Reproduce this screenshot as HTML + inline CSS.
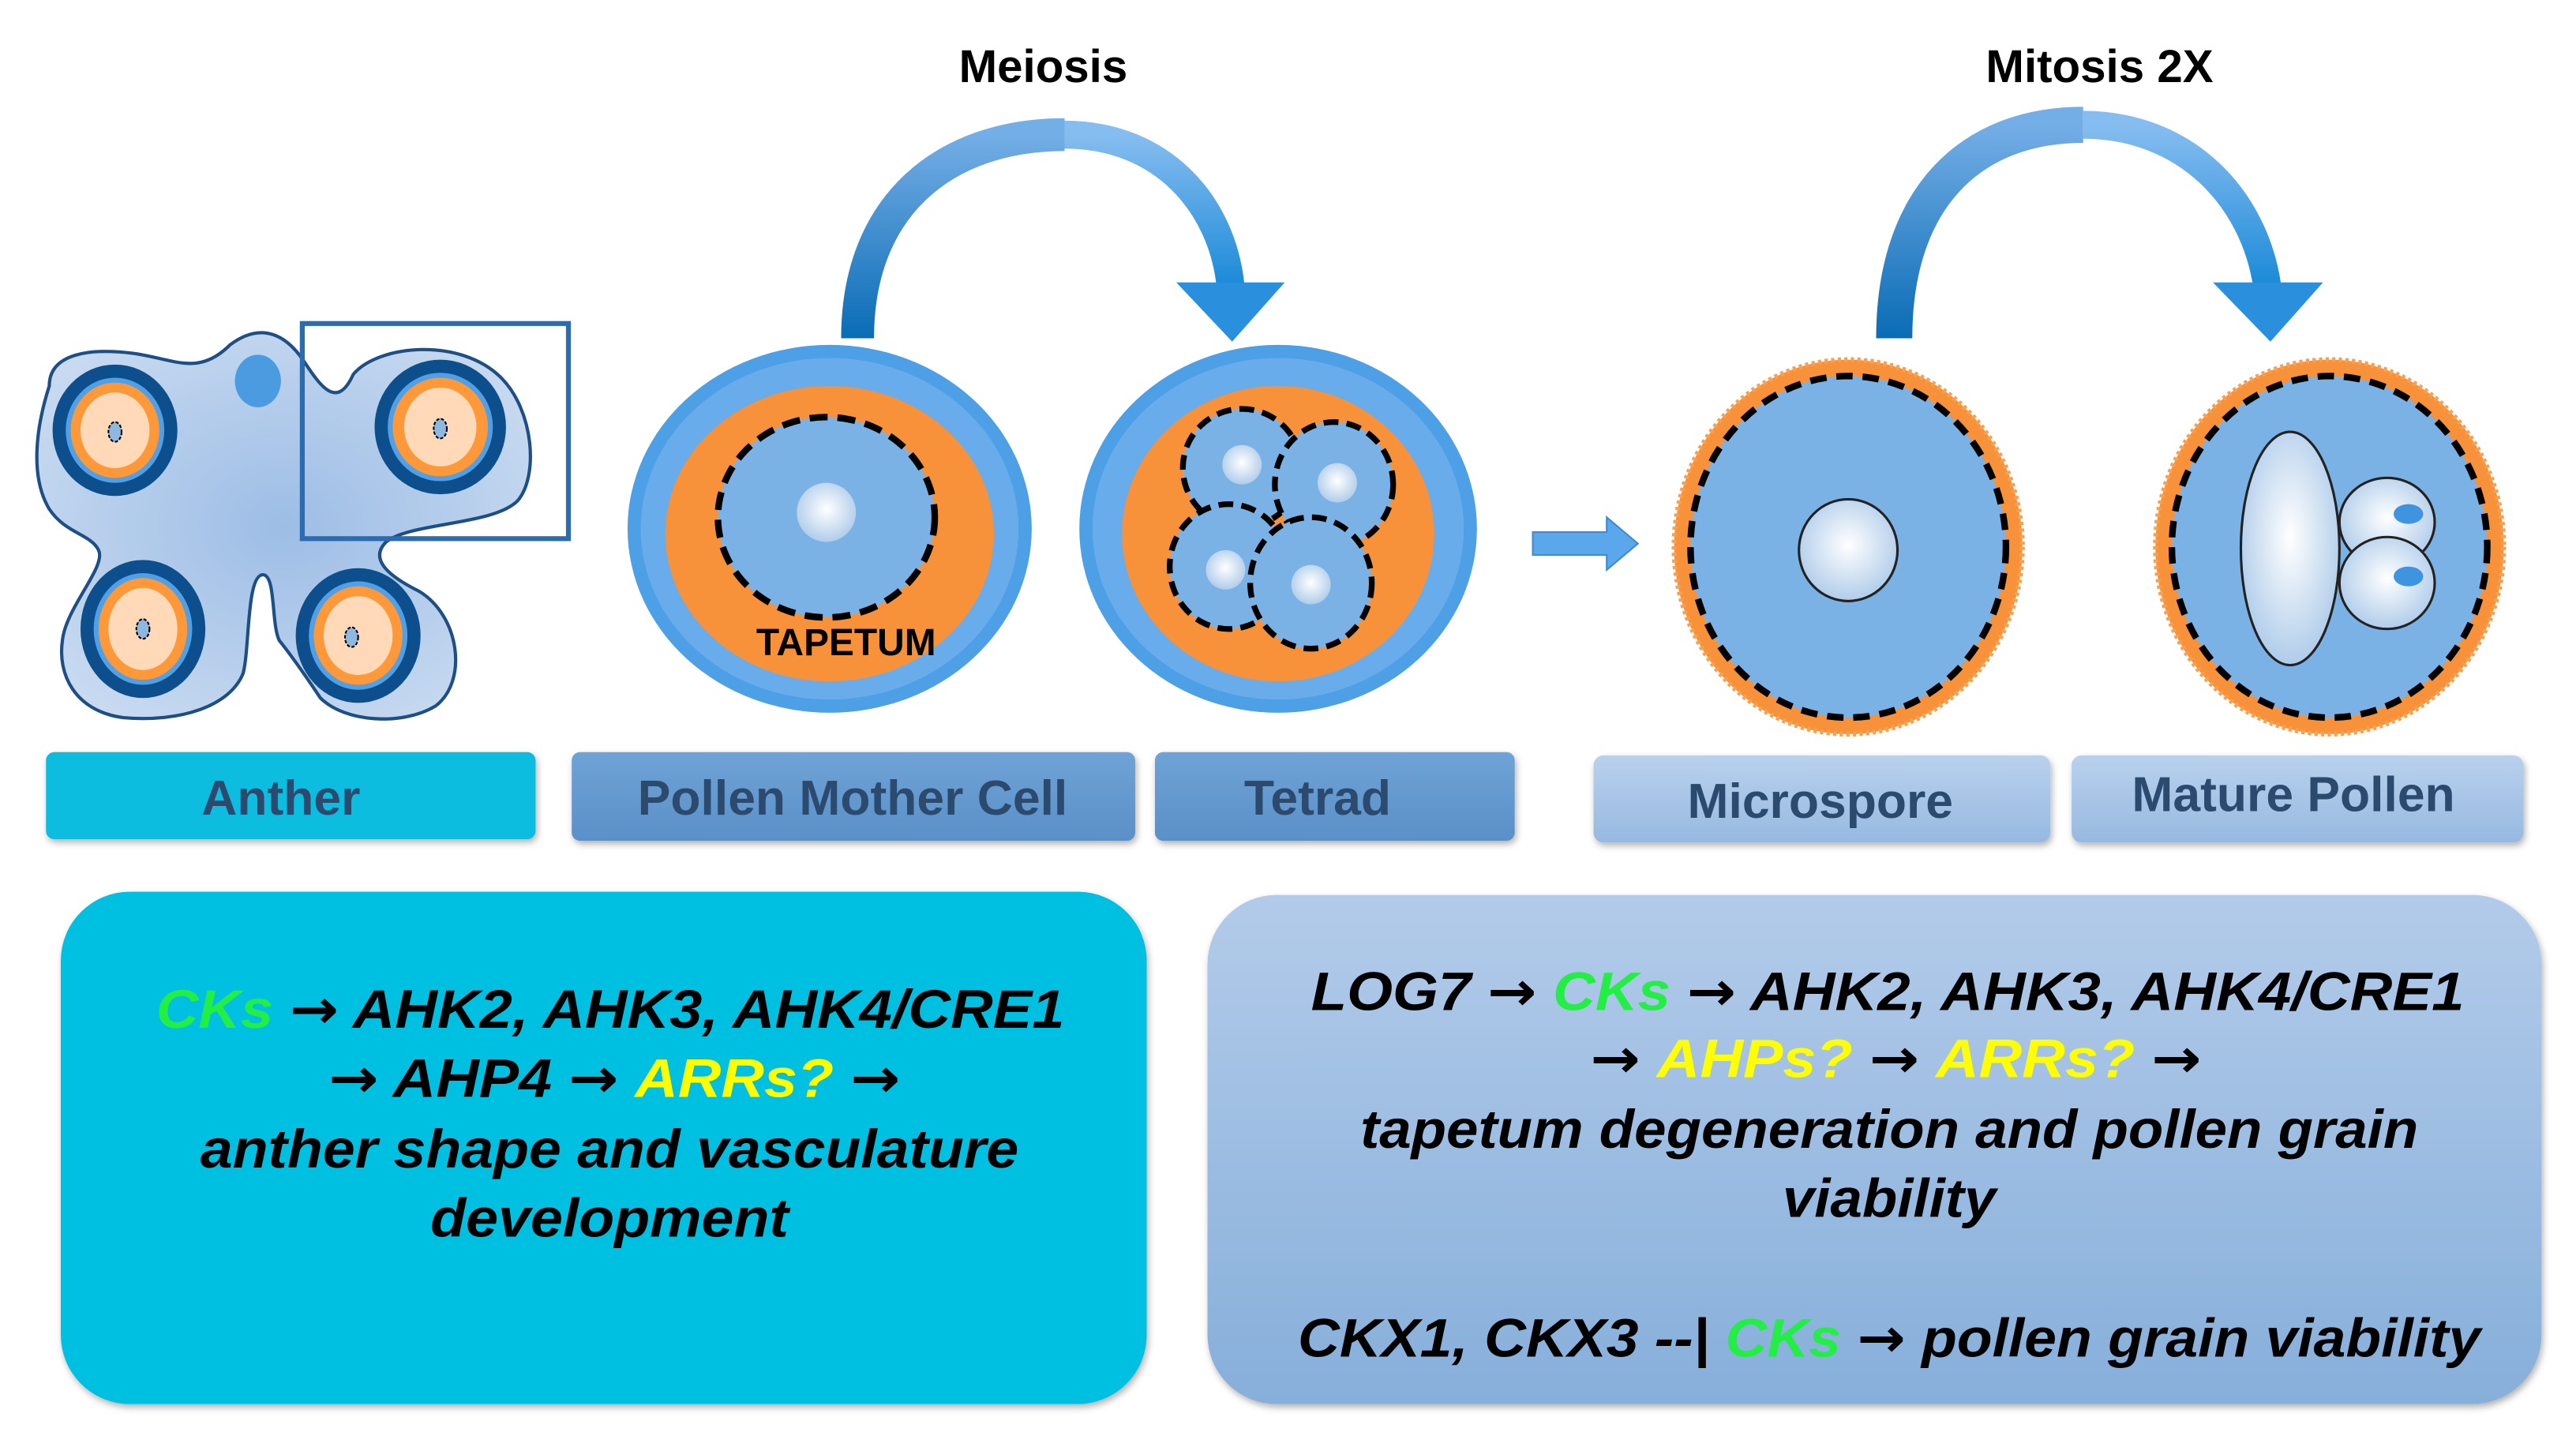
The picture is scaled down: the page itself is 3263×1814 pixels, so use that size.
<!DOCTYPE html>
<html><head><meta charset="utf-8"><style>
html,body{margin:0;padding:0;background:#fff;width:3263px;height:1814px;overflow:hidden}
svg{display:block}
.lab{font-family:"Liberation Sans",sans-serif;font-weight:bold;fill:#2c4a6e;font-size:30px}
.bt{font-family:"Liberation Sans",sans-serif;font-weight:bold;font-style:italic;font-size:33px;fill:#000}
.g{fill:#22ee44}.y{fill:#ffff00}
.ar{font-family:"DejaVu Sans",sans-serif;font-weight:bold;font-style:normal}
</style></head><body>
<svg width="3263" height="1814" viewBox="0 0 1568 872" preserveAspectRatio="none" xmlns="http://www.w3.org/2000/svg">
<defs>
<linearGradient id="arrL" x1="0" y1="1" x2="0" y2="0"><stop offset="0" stop-color="#0a6cb5"/><stop offset="1" stop-color="#74aee6"/></linearGradient>
<linearGradient id="arrR" x1="0" y1="0" x2="0" y2="1"><stop offset="0" stop-color="#86bdf0"/><stop offset="1" stop-color="#1b8ad8"/></linearGradient>
<radialGradient id="nuc" cx="0.5" cy="0.45" r="0.6"><stop offset="0" stop-color="#ffffff"/><stop offset="1" stop-color="#a9c8e8"/></radialGradient>
<radialGradient id="anth" cx="0.5" cy="0.5" r="0.6"><stop offset="0" stop-color="#9dbde6"/><stop offset="1" stop-color="#c8daf0"/></radialGradient>
<linearGradient id="lbl1" x1="0" y1="0" x2="0" y2="1"><stop offset="0" stop-color="#6fa3d6"/><stop offset="1" stop-color="#5a90c8"/></linearGradient>
<linearGradient id="lbl2" x1="0" y1="0" x2="0" y2="1"><stop offset="0" stop-color="#b9d1ee"/><stop offset="1" stop-color="#97b9e0"/></linearGradient>
<linearGradient id="rbox" x1="0" y1="0" x2="0" y2="1"><stop offset="0" stop-color="#b3cbea"/><stop offset="1" stop-color="#86afda"/></linearGradient>
<filter id="sh" x="-5%" y="-5%" width="110%" height="120%"><feDropShadow dx="1" dy="2" stdDeviation="2" flood-opacity="0.3"/></filter>
</defs>

<text x="635" y="50" text-anchor="middle" font-family="Liberation Sans,sans-serif" font-weight="bold" font-size="28">Meiosis</text>
<text x="1278" y="50" text-anchor="middle" font-family="Liberation Sans,sans-serif" font-weight="bold" font-size="28">Mitosis 2X</text>

<path d="M522,206 C522,125 575,82 648,82" fill="none" stroke="url(#arrL)" stroke-width="20"/>
<path d="M648,82 C708,82 744,125 749,174" fill="none" stroke="url(#arrR)" stroke-width="17"/>
<polygon points="716,172 782,172 750,208" fill="#2a8fdc"/>
<path d="M1153,206 C1153,120 1200,76 1268,76" fill="none" stroke="url(#arrL)" stroke-width="22"/>
<path d="M1268,76 C1330,76 1372,120 1380,174" fill="none" stroke="url(#arrR)" stroke-width="17"/>
<polygon points="1347,172 1414,172 1382,208" fill="#2a8fdc"/>

<path d="M30,235 C30,215 55,212 80,215 C105,218 120,230 140,210 C160,195 175,205 185,220 C195,235 205,250 215,228 C230,210 280,205 305,230 C325,250 328,290 315,305 C300,320 250,318 235,330 C225,340 235,350 255,360 C280,375 285,415 265,430 C245,442 210,440 195,425 C185,410 178,400 170,390 C165,380 168,350 160,350 C150,350 152,395 148,410 C140,430 110,440 75,437 C45,433 35,410 38,390 C40,370 65,345 60,335 C55,325 40,325 30,310 C18,290 22,260 30,235 Z" fill="url(#anth)" stroke="#1d4f86" stroke-width="2"/>
<ellipse cx="157" cy="232" rx="14" ry="16" fill="#4a9be0"/>
<g>
<ellipse cx="70" cy="262" rx="38" ry="40" fill="#0c4f8c"/><ellipse cx="70" cy="262" rx="30" ry="32" fill="#4fa0e6"/><ellipse cx="70" cy="262" rx="27" ry="29" fill="#ff9838"/><ellipse cx="70" cy="262" rx="21" ry="23" fill="#ffd9b8"/><ellipse cx="70" cy="263" rx="4" ry="6" fill="#8fb8e0" stroke="#000" stroke-dasharray="2,1"/>
<ellipse cx="268" cy="260" rx="40" ry="41" fill="#0c4f8c"/><ellipse cx="268" cy="260" rx="32" ry="33" fill="#4fa0e6"/><ellipse cx="268" cy="260" rx="29" ry="30" fill="#ff9838"/><ellipse cx="268" cy="260" rx="22" ry="24" fill="#ffd9b8"/><ellipse cx="268" cy="261" rx="4" ry="6" fill="#8fb8e0" stroke="#000" stroke-dasharray="2,1"/>
<ellipse cx="87" cy="383" rx="38" ry="42" fill="#0c4f8c"/><ellipse cx="87" cy="383" rx="30" ry="34" fill="#4fa0e6"/><ellipse cx="87" cy="383" rx="27" ry="31" fill="#ff9838"/><ellipse cx="87" cy="383" rx="21" ry="25" fill="#ffd9b8"/><ellipse cx="87" cy="383" rx="4" ry="6" fill="#8fb8e0" stroke="#000" stroke-dasharray="2,1"/>
<ellipse cx="218" cy="387" rx="38" ry="41" fill="#0c4f8c"/><ellipse cx="218" cy="387" rx="30" ry="33" fill="#4fa0e6"/><ellipse cx="218" cy="387" rx="27" ry="30" fill="#ff9838"/><ellipse cx="218" cy="387" rx="21" ry="24" fill="#ffd9b8"/><ellipse cx="214" cy="388" rx="4" ry="6" fill="#8fb8e0" stroke="#000" stroke-dasharray="2,1"/>
</g>
<rect x="184" y="197" width="162" height="131" fill="none" stroke="#2b6cb0" stroke-width="3"/>

<ellipse cx="505" cy="322" rx="123" ry="112" fill="#4d9fe6"/>
<ellipse cx="505" cy="322" rx="115" ry="104" fill="#69acec"/>
<ellipse cx="505" cy="325" rx="100" ry="90" fill="#f7913a"/>
<ellipse cx="503" cy="315" rx="66" ry="61" fill="#7ab2e6" stroke="#000" stroke-width="4" stroke-dasharray="11,6"/>
<circle cx="503" cy="312" r="18" fill="url(#nuc)"/>
<text x="515" y="399" text-anchor="middle" font-family="Liberation Sans,sans-serif" font-weight="bold" font-size="23">TAPETUM</text>

<ellipse cx="778" cy="322" rx="121" ry="112" fill="#4d9fe6"/>
<ellipse cx="778" cy="322" rx="113" ry="104" fill="#69acec"/>
<ellipse cx="778" cy="325" rx="95" ry="90" fill="#f7913a"/>
<g fill="#7ab2e6" stroke="#000" stroke-width="3.5" stroke-dasharray="9,5">
<ellipse cx="756" cy="285" rx="36" ry="36"/>
<ellipse cx="812" cy="295" rx="36" ry="38"/>
<ellipse cx="748" cy="345" rx="36" ry="38"/>
<ellipse cx="798" cy="355" rx="37" ry="40"/>
</g>
<circle cx="756" cy="283" r="12" fill="url(#nuc)"/><circle cx="814" cy="294" r="12" fill="url(#nuc)"/><circle cx="746" cy="347" r="12" fill="url(#nuc)"/><circle cx="798" cy="356" r="12" fill="url(#nuc)"/>

<polygon points="933,324 978,324 978,315 997,331 978,347 978,338 933,338" fill="#5aa7ec" stroke="#3d8ad0" stroke-width="1"/>

<ellipse cx="1125" cy="333" rx="106" ry="114" fill="#f7913a" stroke="#f9a050" stroke-width="3" stroke-dasharray="2,2"/>
<ellipse cx="1125" cy="333" rx="96" ry="104" fill="#7ab2e6" stroke="#000" stroke-width="4" stroke-dasharray="10,6"/>
<ellipse cx="1125" cy="335" rx="30" ry="31" fill="url(#nuc)" stroke="#222" stroke-width="1.5"/>

<ellipse cx="1418" cy="333" rx="106" ry="114" fill="#f7913a" stroke="#f9a050" stroke-width="3" stroke-dasharray="2,2"/>
<ellipse cx="1418" cy="333" rx="96" ry="104" fill="#7ab2e6" stroke="#000" stroke-width="4" stroke-dasharray="10,6"/>
<ellipse cx="1394" cy="334" rx="30" ry="71" fill="url(#nuc)" stroke="#222" stroke-width="1.5"/>
<ellipse cx="1453" cy="318" rx="29" ry="27" fill="url(#nuc)" stroke="#222" stroke-width="1.5"/>
<ellipse cx="1453" cy="355" rx="29" ry="28" fill="url(#nuc)" stroke="#222" stroke-width="1.5"/>
<ellipse cx="1466" cy="313" rx="9" ry="6" fill="#3f94e0"/>
<ellipse cx="1466" cy="351" rx="9" ry="6" fill="#3f94e0"/>

<rect x="28" y="458" width="298" height="53" rx="5" fill="#08bde0" filter="url(#sh)"/>
<text x="171" y="496" text-anchor="middle" class="lab">Anther</text>
<rect x="348" y="458" width="343" height="54" rx="5" fill="url(#lbl1)" filter="url(#sh)"/>
<text x="519" y="496" text-anchor="middle" class="lab">Pollen Mother Cell</text>
<rect x="703" y="458" width="219" height="54" rx="5" fill="url(#lbl1)" filter="url(#sh)"/>
<text x="802" y="496" text-anchor="middle" class="lab">Tetrad</text>
<rect x="970" y="460" width="278" height="53" rx="6" fill="url(#lbl2)" filter="url(#sh)"/>
<text x="1108" y="498" text-anchor="middle" class="lab">Microspore</text>
<rect x="1261" y="460" width="275" height="53" rx="6" fill="url(#lbl2)" filter="url(#sh)"/>
<text x="1396" y="494" text-anchor="middle" class="lab">Mature Pollen</text>

<rect x="37" y="543" width="661" height="312" rx="42" fill="#06c0e2" filter="url(#sh)"/>
<rect x="735" y="545" width="812" height="310" rx="42" fill="url(#rbox)" filter="url(#sh)"/>

<text class="bt" x="95" y="626" textLength="553" lengthAdjust="spacingAndGlyphs"><tspan class="g">CKs</tspan> <tspan class="ar">→</tspan> AHK2, AHK3, AHK4/CRE1</text>
<text class="bt" x="200" y="668" textLength="348" lengthAdjust="spacingAndGlyphs"><tspan class="ar">→</tspan> AHP4 <tspan class="ar">→</tspan> <tspan class="y">ARRs?</tspan> <tspan class="ar">→</tspan></text>
<text class="bt" x="122" y="711" textLength="498" lengthAdjust="spacingAndGlyphs">anther shape and vasculature</text>
<text class="bt" x="262" y="753" textLength="218" lengthAdjust="spacingAndGlyphs">development</text>

<text class="bt" x="798" y="615" textLength="702" lengthAdjust="spacingAndGlyphs">LOG7 <tspan class="ar">→</tspan> <tspan class="g">CKs</tspan> <tspan class="ar">→</tspan> AHK2, AHK3, AHK4/CRE1</text>
<text class="bt" x="968" y="656" textLength="372" lengthAdjust="spacingAndGlyphs"><tspan class="ar">→</tspan> <tspan class="y">AHPs?</tspan> <tspan class="ar">→</tspan> <tspan class="y">ARRs?</tspan> <tspan class="ar">→</tspan></text>
<text class="bt" x="828" y="699" textLength="644" lengthAdjust="spacingAndGlyphs">tapetum degeneration and pollen grain</text>
<text class="bt" x="1085" y="741" textLength="130" lengthAdjust="spacingAndGlyphs">viability</text>
<text class="bt" x="790" y="826" textLength="720" lengthAdjust="spacingAndGlyphs">CKX1, CKX3 --| <tspan class="g">CKs</tspan> <tspan class="ar">→</tspan> pollen grain viability</text>
</svg>
</body></html>
